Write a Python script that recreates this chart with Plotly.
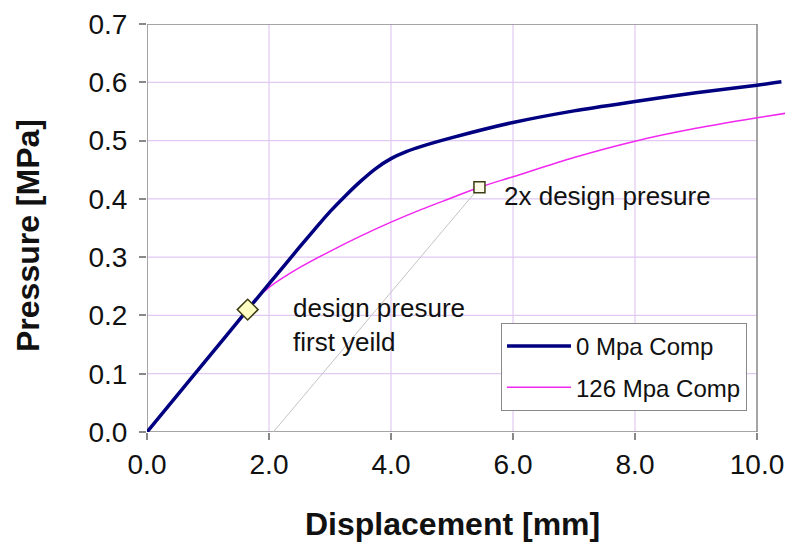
import plotly.graph_objects as go

# curve data
disp_0 = [0, 1.0, 1.65, 2.0, 2.5, 2.8, 3.0, 3.25, 3.5, 3.75, 4.0, 4.25, 4.5, 5.0, 6.0, 7.0, 8.0, 9.0, 10.0, 10.4]
pres_0 = [0, 0.127, 0.21, 0.254, 0.317, 0.354, 0.378, 0.405, 0.43, 0.452, 0.469, 0.481, 0.490, 0.505, 0.531, 0.551, 0.567, 0.582, 0.595, 0.601]

disp_126 = [0, 1.0, 1.65, 1.8, 2.0, 2.25, 2.5, 3.0, 3.5, 4.0, 4.5, 5.0, 5.45, 6.0, 7.0, 8.0, 9.0, 10.0, 10.6]
pres_126 = [0, 0.127, 0.21, 0.229, 0.248, 0.266, 0.282, 0.31, 0.336, 0.36, 0.382, 0.402, 0.42, 0.438, 0.471, 0.499, 0.521, 0.539, 0.549]

offset_x = [2.07, 5.45]
offset_y = [0.0, 0.42]

design_pt = ([1.65], [0.21])
double_pt = ([5.45], [0.42])

x_ticks = [0, 2, 4, 6, 8, 10]
y_ticks = [0, 0.1, 0.2, 0.3, 0.4, 0.5, 0.6, 0.7]

FONT = "Arial, Liberation Sans, sans-serif"
GRID = "#e0c9f3"
FRAME = "#888888"
INK = "#111111"

# the page body adds an 8px margin, so the figure is drawn 8px smaller
PAGE_OFF = 8
FIG_W, FIG_H = 793 - PAGE_OFF, 548 - PAGE_OFF
# plot area in reference pixels: left 147, bottom 432, height 408, width 646 (to the page edge)
PX_L, PX_B, PX_H, PX_W = 147, 432, 408, 646

fig = go.Figure()

fig.add_trace(go.Scatter(x=offset_x, y=offset_y, mode="lines",
                         line=dict(color="#c4c4c4", width=1), showlegend=False,
                         hoverinfo="skip"))
fig.add_trace(go.Scatter(x=disp_126, y=pres_126, mode="lines", name="126 Mpa Comp",
                         line=dict(color="#f028f0", width=1.5, shape="spline", smoothing=0.8),
                         legendgroup="b", legendrank=2))
fig.add_trace(go.Scatter(x=disp_0, y=pres_0, mode="lines", name="0 Mpa Comp",
                         line=dict(color="#000080", width=3.5, shape="spline", smoothing=0.8),
                         legendgroup="a", legendrank=1))
fig.add_trace(go.Scatter(x=design_pt[0], y=design_pt[1], mode="markers", showlegend=False,
                         marker=dict(symbol="diamond", size=16, color="#ffffc4",
                                     line=dict(color="#3c3c14", width=1.5))))
fig.add_trace(go.Scatter(x=double_pt[0], y=double_pt[1], mode="markers", showlegend=False,
                         marker=dict(symbol="square", size=11, color="#fbfbe8",
                                     line=dict(color="#3c3c14", width=1.5))))

# gridlines and frame stop at x = 10 while the curves run past it
shapes = []
for yv in y_ticks[1:-1]:
    shapes.append(dict(type="line", xref="x", yref="y", x0=0, x1=10, y0=yv, y1=yv,
                       line=dict(color=GRID, width=1.2), layer="below"))
for xv in x_ticks[1:-1]:
    shapes.append(dict(type="line", xref="x", yref="y", x0=xv, x1=xv, y0=0, y1=0.7,
                       line=dict(color=GRID, width=1.2), layer="below"))
shapes.append(dict(type="rect", xref="x", yref="y", x0=0, x1=10, y0=0, y1=0.7,
                   line=dict(color=FRAME, width=1.5), layer="below"))

annotations = [
    dict(x=5.82, y=0.405, xref="x", yref="y", text="2x design presure", showarrow=False,
         xanchor="left", yanchor="middle", font=dict(size=26, color=INK, family=FONT)),
    dict(x=2.36, y=0.1835, xref="x", yref="y", text="design presure<br>first yeild",
         showarrow=False, xanchor="left", yanchor="middle", align="left",
         font=dict(size=26, color=INK, family=FONT)),
    dict(x=5, y=(PX_B - 524) / PX_H, xref="x", yref="paper", text="<b>Displacement [mm]</b>",
         showarrow=False, xanchor="center", yanchor="middle",
         font=dict(size=32, color=INK, family=FONT)),
    dict(x=(28 - PX_L) / PX_W, y=(PX_B - 236) / PX_H, xref="paper", yref="paper",
         text="<b>Pressure [MPa]</b>", textangle=-90, showarrow=False,
         xanchor="center", yanchor="middle", font=dict(size=32, color=INK, family=FONT)),
]

fig.update_layout(
    width=FIG_W, height=FIG_H,
    margin=dict(l=PX_L - PAGE_OFF, r=0, t=24 - PAGE_OFF, b=548 - PX_B, autoexpand=False),
    paper_bgcolor="white", plot_bgcolor="white",
    font=dict(family=FONT, color=INK),
    shapes=shapes,
    annotations=annotations,
    legend=dict(x=(747 - PX_L) / PX_W, y=(PX_B - 323) / PX_H, xanchor="right", yanchor="top",
                bordercolor=FRAME, borderwidth=1, bgcolor="white",
                font=dict(size=24, family=FONT, color=INK),
                itemwidth=64,
                traceorder="grouped", tracegroupgap=7),
    xaxis=dict(range=[0, 10.59], tickvals=x_ticks, tickformat=".1f", automargin=False,
               showgrid=False, zeroline=False, showline=False,
               ticks="outside", ticklen=7, tickwidth=1.5, tickcolor=FRAME,
               tickfont=dict(size=28, family=FONT, color=INK)),
    yaxis=dict(range=[0, 0.7], tickvals=y_ticks, tickformat=".1f", automargin=False,
               showgrid=False, zeroline=False, showline=False,
               ticks="outside", ticklen=7, tickwidth=1.5, tickcolor=FRAME,
               ticklabelstandoff=6,
               tickfont=dict(size=28, family=FONT, color=INK)),
)

fig.write_html("out.html")
